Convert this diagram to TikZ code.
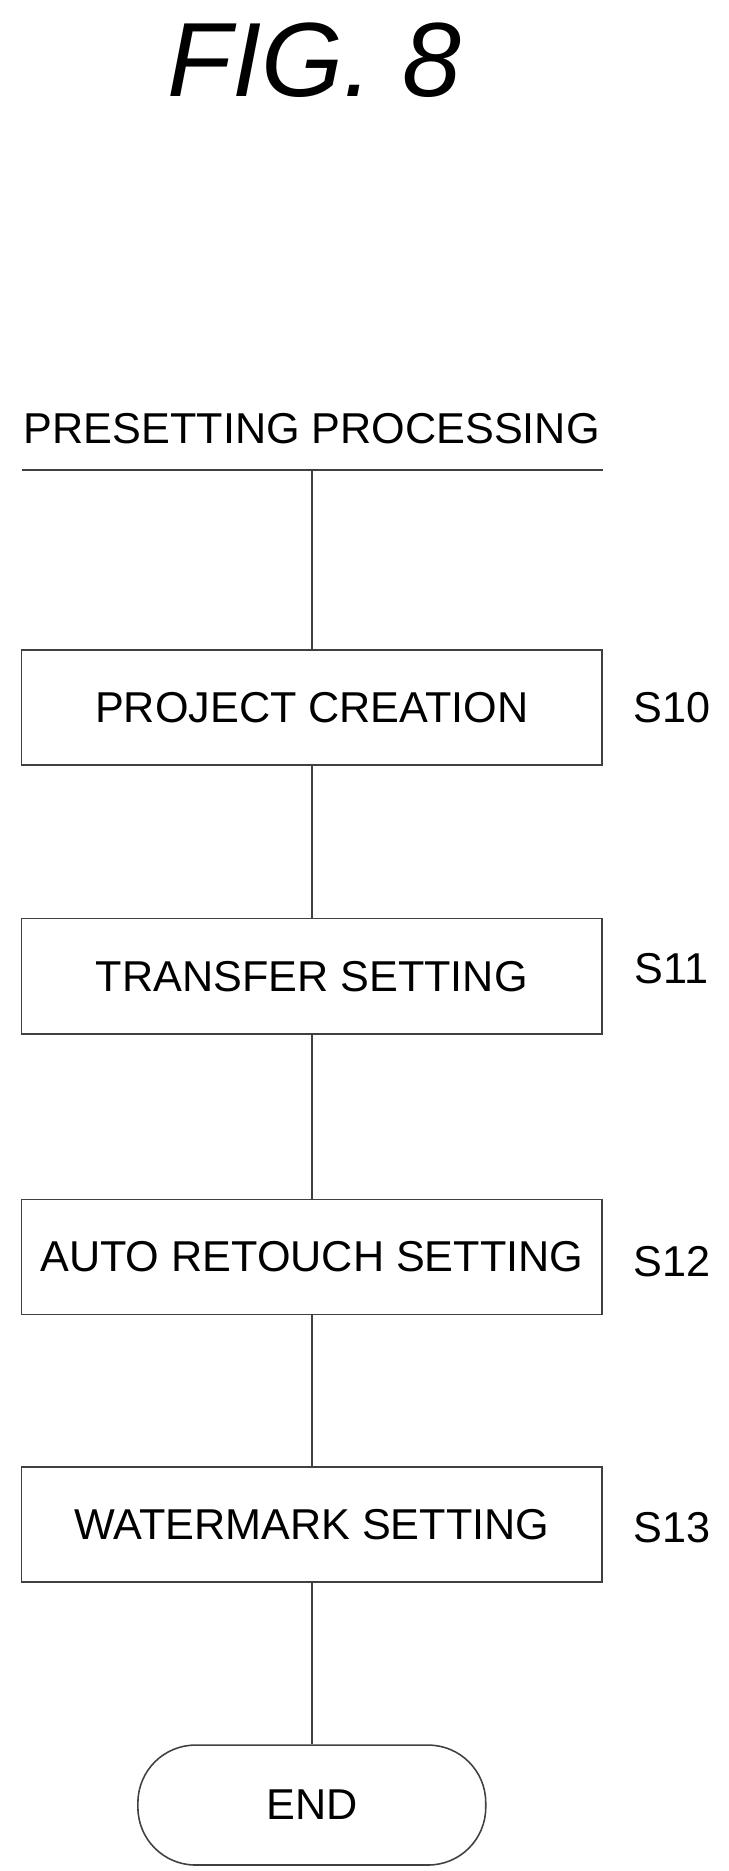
\documentclass[tikz,border=0pt]{standalone}
\usepackage{fontspec}
\setmainfont{Liberation Sans}
\begin{document}
\begin{tikzpicture}[x=1pt,y=-1pt,
  ln/.style={draw=black!75,line width=1.3pt},
  stepbox/.style={ln,minimum width=484pt,minimum height=96pt,inner sep=0pt,font=\fontsize{36}{38}\selectfont},
  lbl/.style={font=\fontsize{36}{38}\selectfont}]
\useasboundingbox (0,0) rectangle (607,1560);
\node[font=\fontsize{88}{90}\selectfont\itshape] (title) at (262,50) {FIG. 8};
\node[lbl] (head) at (260,357) {PRESETTING PROCESSING};
\coordinate (hl) at (18,392); \coordinate (hr) at (503,392); \coordinate (hm) at (260,392);
\draw[ln] (hl) -- (hr);
\node[stepbox] (s10) at (260,590) {PROJECT CREATION};
\node[stepbox] (s11) at (260,814) {TRANSFER SETTING};
\node[stepbox] (s12) at (260,1048) {AUTO RETOUCH SETTING};
\node[stepbox] (s13) at (260,1271) {WATERMARK SETTING};
\node[ln,rounded corners=48pt,minimum width=290pt,minimum height=100pt,lbl] (end) at (260,1505) {END};
\node[lbl] at (560,590) {S10};
\node[lbl] at (560,808) {S11};
\node[lbl] at (560,1052) {S12};
\node[lbl] at (560,1274) {S13};
\draw[ln] (hm) -- (s10);
\draw[ln] (s10) -- (s11);
\draw[ln] (s11) -- (s12);
\draw[ln] (s12) -- (s13);
\draw[ln] (s13) -- (end);
\end{tikzpicture}
\end{document}
